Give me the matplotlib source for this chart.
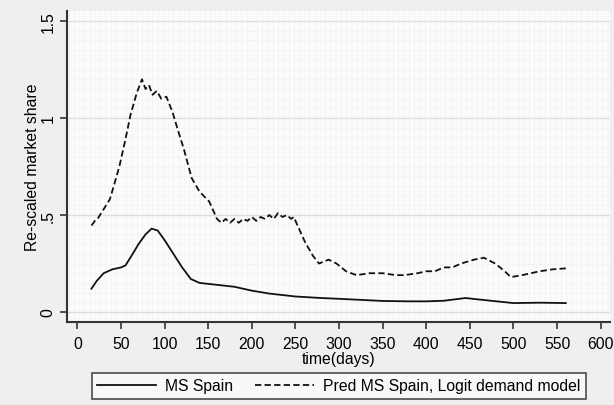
import numpy as np
import matplotlib.pyplot as plt

plt.rcParams['font.family'] = ['Liberation Sans', 'DejaVu Sans']

# observed market share (solid)
days_ms = [16, 22, 30, 40, 50, 55, 62, 70, 78, 85, 92, 100, 110, 120, 130, 140,
           160, 180, 200, 220, 250, 280, 300, 350, 380, 400, 420, 445, 470, 500, 530, 560]
ms_spain = [0.12, 0.16, 0.20, 0.22, 0.23, 0.24, 0.29, 0.35, 0.40, 0.43, 0.42, 0.37,
            0.30, 0.23, 0.17, 0.15, 0.14, 0.13, 0.11, 0.095, 0.08, 0.072, 0.068,
            0.057, 0.055, 0.055, 0.058, 0.072, 0.06, 0.046, 0.048, 0.046]

# logit model prediction (dashed)
days_pred = [16, 20, 23, 30, 37, 41, 48, 55, 61, 68, 74, 78, 82, 86, 91, 96, 102,
             109, 115, 122, 131, 140, 151, 160, 165, 170, 175, 180, 185, 190, 195,
             200, 205, 210, 215, 220, 225, 230, 235, 240, 245, 248, 252, 261, 270,
             277, 288, 297, 308, 320, 335, 350, 365, 375, 390, 400, 410, 420, 430,
             440, 455, 466, 479, 490, 497, 510, 520, 530, 545, 560]
pred_logit = [0.446, 0.47, 0.48, 0.53, 0.58, 0.64, 0.75, 0.89, 1.02, 1.13, 1.20,
              1.15, 1.17, 1.12, 1.14, 1.10, 1.11, 1.03, 0.94, 0.84, 0.69, 0.62,
              0.57, 0.48, 0.46, 0.48, 0.46, 0.48, 0.46, 0.48, 0.47, 0.49, 0.47,
              0.49, 0.48, 0.50, 0.48, 0.51, 0.49, 0.50, 0.48, 0.49, 0.45, 0.36,
              0.29, 0.25, 0.27, 0.25, 0.21, 0.19, 0.20, 0.20, 0.19, 0.19, 0.20,
              0.21, 0.21, 0.23, 0.23, 0.25, 0.27, 0.28, 0.25, 0.21, 0.18, 0.19,
              0.20, 0.21, 0.22, 0.225]

fs = 11.3

fig = plt.figure(figsize=(6.14, 4.06), dpi=100, facecolor='#efefef')
ax = fig.add_axes([66.5 / 614, 1 - 322.7 / 406, (610 - 66.5) / 614, (322.7 - 12) / 406])
ax.set_facecolor('#fbfbfb')

ax.plot(days_ms, ms_spain, color='#111111', lw=1.3, label='MS Spain')
ax.plot(days_pred, pred_logit, color='#111111', lw=1.3, dashes=(3.5, 1.8),
        label='Pred MS Spain, Logit demand model')

ax.set_xlim(-12.6, 610.7)
ax.set_ylim(-0.05, 1.552)
ax.set_xticks(np.arange(0, 601, 50))
ax.set_yticks([0, 0.5, 1, 1.5])
ax.set_yticklabels(['0', '.5', '1', '1.5'], rotation=90, va='center')
ax.set_yticks(np.arange(0, 1.55, 0.05), minor=True)
ax.set_xticks(np.arange(-10, 611, 6), minor=True)
ax.grid(which='major', axis='y', color='#dedede', lw=1.0)
ax.grid(which='minor', color='#f3f3f3', lw=0.6)
ax.tick_params(which='minor', length=0)
ax.tick_params(which='major', length=5, width=1.2, color='#333333', labelsize=fs, pad=3)
ax.tick_params(axis='x', which='major', pad=5)

for s in ['top', 'right']:
    ax.spines[s].set_visible(False)
for s in ['left', 'bottom']:
    ax.spines[s].set_color('#333333')
    ax.spines[s].set_linewidth(1.5)

ax.set_xlabel('time(days)', fontsize=fs, labelpad=0)
ax.set_ylabel('Re-scaled market share', fontsize=fs, labelpad=0)

leg = fig.legend(loc='center', bbox_to_anchor=(339 / 614, 1 - 387 / 406), ncol=2,
                 frameon=True, fancybox=False, fontsize=fs, handlelength=3.76,
                 columnspacing=1.4, borderpad=0.35, handletextpad=0.57)
leg.get_frame().set_edgecolor('#222222')
leg.get_frame().set_linewidth(1.2)
leg.get_frame().set_facecolor('#fbfbfb')

fig.savefig('out.png', dpi=100, facecolor=fig.get_facecolor())
